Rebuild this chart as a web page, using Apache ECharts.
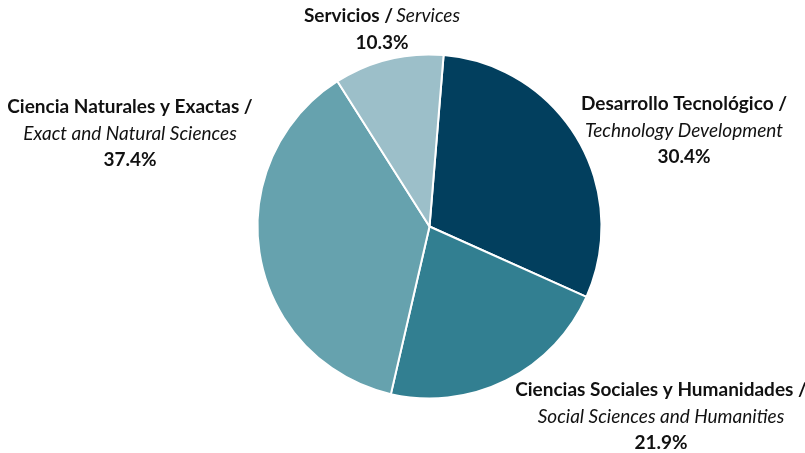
<!DOCTYPE html>
<html><head><meta charset="utf-8">
<script src="https://cdn.jsdelivr.net/npm/echarts@6/dist/echarts.min.js"></script>
<style>html,body{margin:0;padding:0;background:#fff}#c{width:805px;height:453px}</style>
</head><body><div id="c"></div>
<script>
const namesEs = ["Desarrollo Tecnológico", "Ciencias Sociales y Humanidades", "Ciencia Naturales y Exactas", "Servicios"];
const namesEn = ["Technology Development", "Social Sciences and Humanities", "Exact and Natural Sciences", "Services"];
const values = [30.4, 21.9, 37.4, 10.3];
const colors = ["#023f5e", "#327f91", "#66a2ae", "#9cbfc9"];
// label anchor (center-top) per slice
const labelPos = [[684, 91], [661, 377], [130, 94], [382, 3]];
const inlineIdx = 3; // Servicios: Spanish and English on one line

const chart = echarts.init(document.getElementById('c'));
chart.setOption({
  animation: false,
  series: [{
    type: 'pie',
    center: [429.5, 226.5],
    radius: [0, 172],
    startAngle: 85.3,
    clockwise: true,
    data: values.map((v, i) => ({name: namesEs[i], value: v, itemStyle: {color: colors[i]}})),
    itemStyle: {borderColor: '#fff', borderWidth: 2},
    labelLine: {show: false},
    label: {
      show: true,
      position: 'inside',
      overflow: 'none',
      fontFamily: 'Lato',
      color: '#111',
      align: 'center',
      formatter: p => {
        const i = p.dataIndex;
        if (i === inlineIdx) return '{b|' + namesEs[i] + ' /} {i|' + namesEn[i] + '}\n{b|' + values[i].toFixed(1) + '%}';
        return '{b|' + namesEs[i] + ' /}\n{i|' + namesEn[i] + '}\n{b|' + values[i].toFixed(1) + '%}';
      },
      rich: {
        b: {fontFamily: 'Lato', fontWeight: 'bold', fontSize: 19, lineHeight: 26.5, color: '#111'},
        i: {fontFamily: 'Lato', fontStyle: 'italic', fontSize: 19, lineHeight: 26.5, color: '#111'}
      }
    },
    labelLayout: p => ({
      x: labelPos[p.dataIndex][0],
      y: labelPos[p.dataIndex][1],
      align: 'center',
      verticalAlign: 'top'
    })
  }]
});
</script></body></html>
